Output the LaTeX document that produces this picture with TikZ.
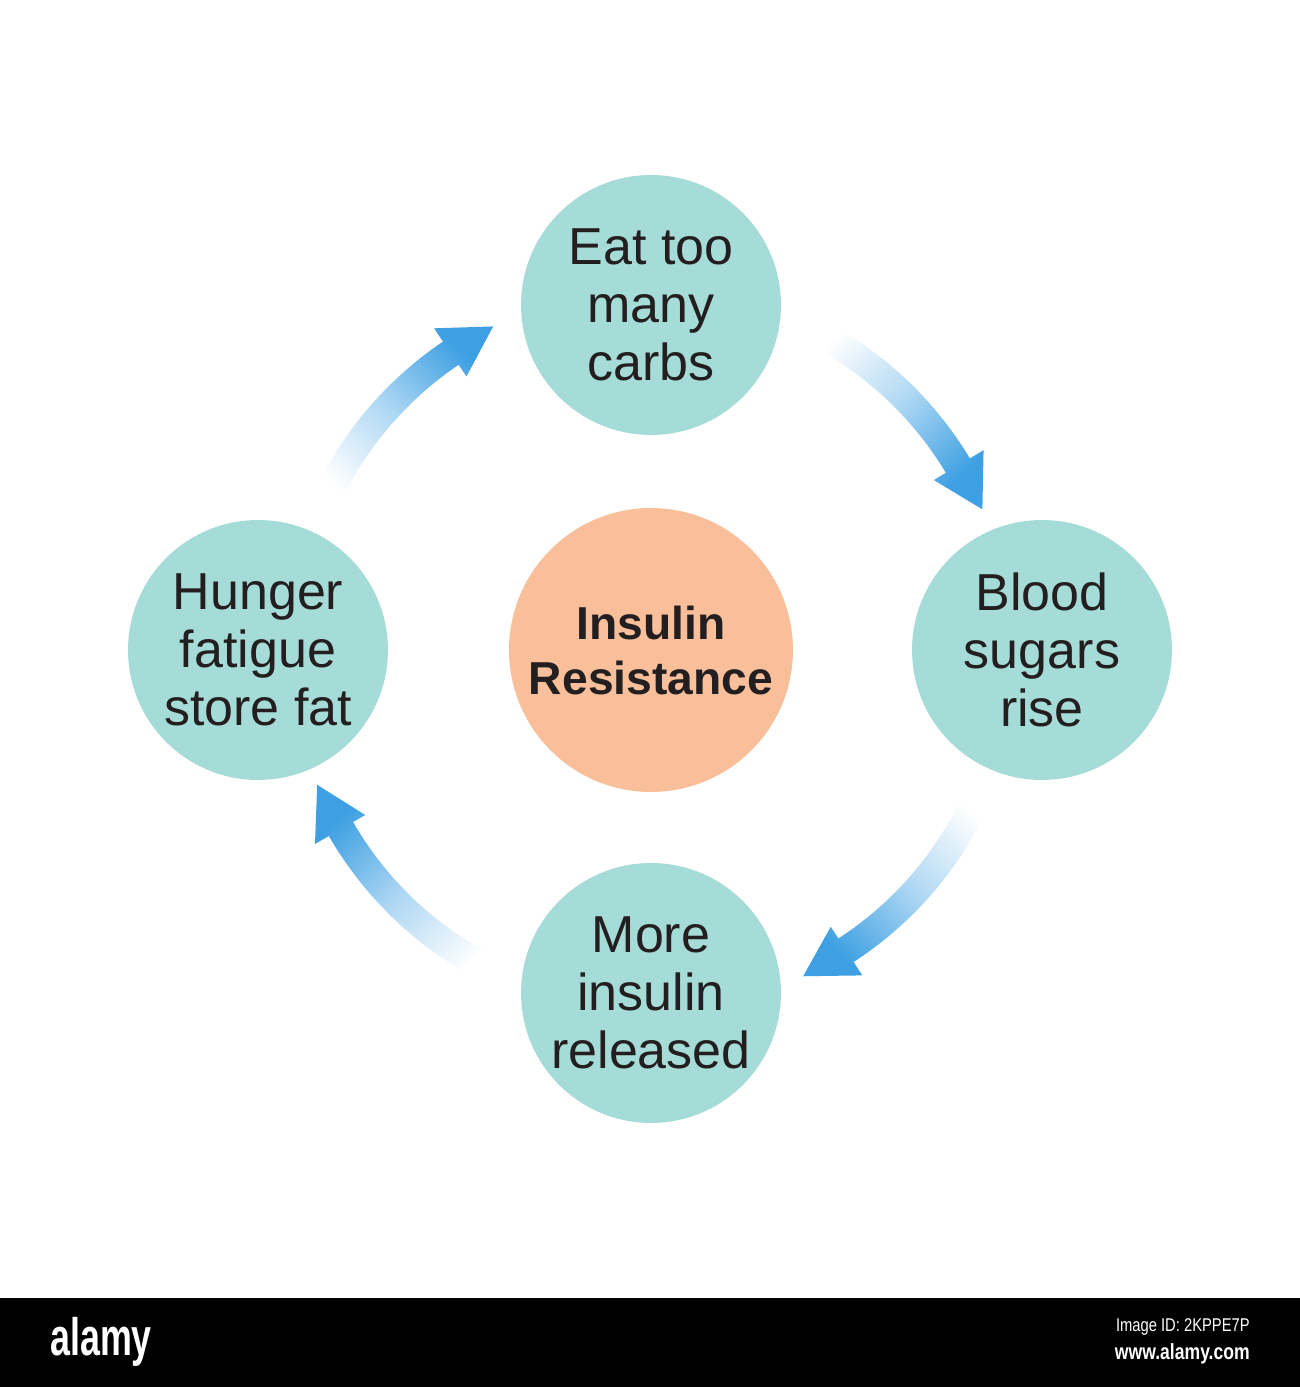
\documentclass[tikz,border=0pt]{standalone}
\usepackage{fontspec}
\setmainfont{Liberation Sans}
\definecolor{tealfill}{RGB}{166,220,215}
\definecolor{peachfill}{RGB}{249,191,154}
\definecolor{arrowblue}{RGB}{62,160,226}
\definecolor{inkgray}{RGB}{35,31,32}
\tikzset{
  stage/.style={circle, fill=tealfill, minimum size=5.2cm, inner sep=0pt, align=center,
    text=inkgray, font=\fontsize{29.6}{33}\selectfont},
  core/.style={circle, fill=peachfill, minimum size=5.68cm, inner sep=0pt, align=center,
    text=inkgray, font=\fontsize{26.3}{31.3}\selectfont\bfseries},
  flow/.style={bottom color=white, top color=arrowblue, middle color=arrowblue!42},
  wmtext/.style={text=white, inner sep=0pt}
}
\newcommand\cyclearrow[4]{%
  \shade[flow, shading angle=#4] (#1:344) arc[start angle=#1, end angle=#2, radius=344]
    -- (#2:330) -- (#3:360) -- (#2:388) -- (#2:372)
    arc[start angle=#2, end angle=#1, radius=372] -- cycle;}
\begin{document}
\begin{tikzpicture}[x=0.02cm, y=0.02cm]
\useasboundingbox (0,0) rectangle (1300,1387);
\fill[white] (0,0) rectangle (1300,1387);
\node[core]  (c) at (651,737) {Insulin\\Resistance};
\node[stage] (t) at (651,1082) {Eat too\\many\\carbs};
\node[stage] (r) at (1042,737) {Blood\\sugars\\rise};
\node[stage] (b) at (651,394) {More\\insulin\\released};
\node[stage] (l) at (258,737) {Hunger\\fatigue\\store fat};
\begin{scope}[shift={(c.center)}]
  \cyclearrow{64}{31}{23}{-136}
  \cyclearrow{-22}{-57}{-65}{136}
  \cyclearrow{245}{210}{202}{43}
  \cyclearrow{157}{124}{116}{-43.5}
\end{scope}
\fill[black] (0,0) rectangle (1300,89);
\node[wmtext, anchor=west, xscale=0.68, font=\fontsize{30}{30}\selectfont\bfseries] (logo) at (50,45) {alamy};
\node[wmtext, anchor=east, xscale=0.8, font=\fontsize{10.5}{12}\selectfont] (imgid) at (1250,60) {Image ID: 2KPPE7P};
\node[wmtext, anchor=east, xscale=0.8, font=\fontsize{12.5}{14}\selectfont\bfseries] (site) at (1250,33) {www.alamy.com};
\end{tikzpicture}
\end{document}
